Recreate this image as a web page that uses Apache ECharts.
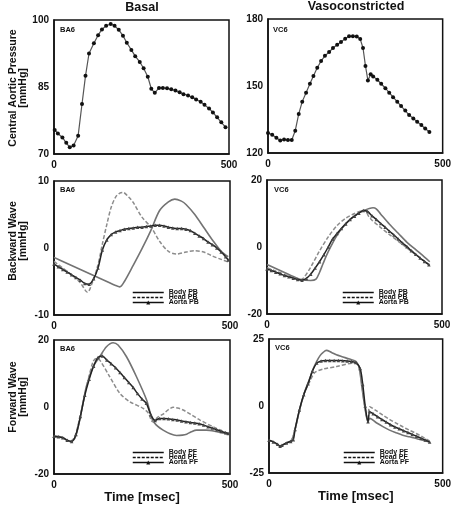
<!DOCTYPE html>
<html><head><meta charset="utf-8">
<script src="https://cdn.jsdelivr.net/npm/echarts@6/dist/echarts.min.js"></script>
<style>html,body{margin:0;padding:0;background:#fff}#c{width:454px;height:507px}</style>
</head><body><div id="c"></div>
<script>
// ---------- DATA ----------
// Central aortic pressure (mmHg)
const basalT = [2,11,24,35,45,56,69,80,90,100,114,126,137,149,162,173,185,197,208,221,232,245,256,268,278,288,300,311,323,335,347,359,370,383,395,406,419,430,443,454,466,478,490];
const basalP = [75.4,74.6,73.7,72.5,71.5,71.9,74.1,81.2,87.5,92.5,94.8,96.6,97.9,98.7,99.1,98.7,97.8,96.5,94.9,93.3,91.9,90.6,89.2,87.3,84.6,83.7,84.8,84.8,84.7,84.5,84.2,83.8,83.4,83.1,82.7,82.2,81.7,81.0,80.2,79.3,78.2,77.1,76.0];
const vcT = [0,12,24,35,46,57,68,78,88,98,109,120,130,141,152,163,175,186,198,209,221,232,243,254,264,272,279,286,294,301,313,324,336,347,358,370,381,393,404,416,427,439,450,462];
const vcP = [129.0,128.2,126.8,125.6,126.0,125.8,125.8,130.0,137.5,143.0,147.0,151.0,154.5,158.2,161.2,163.5,165.2,167.0,168.5,169.7,171.2,172.3,172.3,172.2,171.0,167.0,159.0,152.5,155.3,154.3,152.8,151.0,149.0,147.0,145.0,143.0,141.0,139.0,137.0,135.5,134.0,132.5,131.0,129.4];

// Backward wave, basal
const pbBasalBodyT = [0,25,50,75,100,125,150,175,187,200,225,250,275,300,325,343,362,375,400,425,450,475,495];
const pbBasalBodyV = [-1.4,-2.0,-2.6,-3.2,-3.8,-4.4,-5.0,-5.6,-5.8,-5.0,-2.6,-0.1,2.6,5.6,6.9,7.3,7.0,6.5,5.0,3.1,1.2,-0.5,-1.3];
const pbBasalHeadT = [0,25,50,75,95,110,125,137,150,162,175,187,196,212,225,250,277,300,325,348,375,400,425,450,475,495];
const pbBasalHeadV = [-2.0,-3.0,-4.0,-5.2,-6.6,-5.0,-2.5,0.5,3.5,6.0,7.6,8.2,8.3,7.6,6.8,4.6,3.0,1.0,-0.5,-0.9,-0.6,-0.4,-0.6,-1.2,-1.7,-2.1];
const pbBasalAortaT = [0,12.5,25,37.5,50,62.5,75,87.5,100,112.5,125,137.5,150,162.5,175,187.5,200,212.5,225,237.5,250,262.5,275,287.5,300,312.5,325,337.5,350,362.5,375,387.5,400,412.5,425,437.5,450,462.5,475,487.5,495];
const pbBasalAortaV = [-2.4,-2.8,-3.2,-3.6,-4.0,-4.4,-4.8,-5.3,-5.4,-4.6,-3.0,-0.3,1.2,2.0,2.4,2.6,2.8,2.9,3.0,3.1,3.1,3.2,3.3,3.4,3.4,3.3,3.1,3.0,2.9,2.9,2.8,2.6,2.2,1.8,1.4,0.9,0.5,0.0,-0.6,-1.3,-1.8];

// Backward wave, vasoconstricted
const pbVcBodyT = [0,25,50,75,100,125,140,150,160,175,200,225,250,275,303,312,325,350,375,400,425,450,465];
const pbVcBodyV = [-5.2,-6.4,-7.6,-8.8,-9.8,-10.0,-9.6,-7.6,-5.0,-1.4,3.5,7.0,9.3,10.8,11.7,11.4,9.8,6.8,4.1,1.4,-0.8,-3.0,-4.4];
const pbVcHeadT = [0,25,50,75,93,105,125,150,175,200,225,250,270,280,290,300,325,350,375,400,425,450,465];
const pbVcHeadV = [-6.2,-7.2,-8.2,-9.2,-9.9,-9.2,-6.0,-1.2,3.0,6.4,8.6,10.0,10.8,11.0,9.2,8.0,5.8,3.7,1.7,-0.3,-2.3,-4.2,-5.4];
const pbVcAortaT = [0,12.5,25,37.5,50,62.5,75,87.5,100,112.5,125,137.5,150,162.5,175,187.5,200,212.5,225,237.5,250,262.5,275,287.5,300,312.5,325,337.5,350,362.5,375,387.5,400,412.5,425,437.5,450,462.5];
const pbVcAortaV = [-6.6,-7.0,-7.5,-8.0,-8.5,-8.9,-9.3,-9.7,-9.9,-9.4,-8.1,-6.3,-4.4,-2.3,0.0,2.4,4.0,5.5,6.9,8.2,9.2,10.1,10.9,10.6,9.3,8.2,7.0,5.9,4.7,3.6,2.4,1.2,0.1,-1.1,-2.2,-3.3,-4.3,-5.3];

// Forward wave, basal
const pfBasalBodyT = [0,25,45,59,73,92,111,130,149,168,182,206,234,263,280,295,310,330,348,365,377,390,405,433,460,495];
const pfBasalBodyV = [-8.7,-9.1,-10.3,-9.4,-3.9,6.1,12.0,15.0,18.0,19.2,18.5,15.0,9.1,2.1,-3.9,-5.8,-6.9,-8.0,-8.5,-8.4,-8.1,-7.4,-6.9,-6.9,-7.3,-8.1];
const pfBasalHeadT = [0,25,45,59,78,97,111,120,130,158,187,215,253,268,280,295,310,325,339,355,367,390,415,452,495];
const pfBasalHeadV = [-8.7,-9.2,-10.3,-8.9,-0.9,8.1,13.5,14.5,14.0,9.1,4.1,1.6,-0.4,-1.8,-4.4,-3.0,-2.1,-0.8,-0.1,-0.4,-0.9,-2.3,-3.9,-5.9,-7.9];
const pfBasalAortaT = [0,12.5,25,37.5,50,62.5,75,87.5,100,112.5,125,137.5,150,162.5,175,187.5,200,212.5,225,237.5,250,262.5,275,287.5,300,312.5,325,337.5,350,362.5,375,387.5,400,412.5,425,437.5,450,462.5,475,487.5,495];
const pfBasalAortaV = [-8.7,-8.9,-9.2,-9.9,-10.3,-8.2,-2.8,3.5,8.3,12.2,14.8,15.2,14.0,12.9,11.7,10.3,8.8,7.3,5.8,4.0,2.4,1.1,-2.3,-4.0,-3.4,-3.4,-3.5,-3.7,-3.9,-4.2,-4.4,-4.6,-4.8,-5.0,-5.4,-5.9,-6.3,-6.8,-7.3,-7.7,-7.9];

// Forward wave, vasoconstricted
const pfVcBodyT = [0,15,32,50,65,75,89,103,118,127,137,147,156,165,180,194,213,232,251,260,267,275,285,290,309,328,347,366,385,404,424,443,462];
const pfVcBodyV = [-12.75,-13.5,-15,-13.8,-12.75,-8.75,-0.9,5.4,10.5,13.8,16.6,18.8,20.0,20.75,20.0,19.1,18.3,17.5,16.6,14.0,7.5,0.4,-5.9,-4.6,-6.25,-7.7,-9,-10.0,-10.9,-11.5,-12.1,-12.8,-13.4];
const pfVcHeadT = [0,15,32,50,65,75,89,103,118,132,156,194,242,256,264,275,285,290,309,328,347,366,385,404,424,443,462];
const pfVcHeadV = [-12.75,-13.5,-15,-13.8,-12.75,-8.75,-0.9,5.2,9.3,12.5,13.8,14.7,16.0,15.6,11.5,0.4,-5.9,-0.25,-1.75,-3.4,-5,-6.4,-7.75,-9.0,-10.25,-11.6,-13.0];
const pfVcAortaT = [0,12.5,25,32,37.5,50,62.5,70,75,87.5,100,112.5,125,137.5,150,162.5,175,187.5,200,212.5,225,237.5,250,262.5,270,277,285,290,300,312.5,325,337.5,350,362.5,375,387.5,400,412.5,425,437.5,450,462.5];
const pfVcAortaV = [-12.75,-13.4,-14.3,-15.0,-14.6,-13.8,-13.2,-12.6,-8.75,-1.5,4.2,8.3,13.0,16.0,16.8,17.0,17.0,17.0,17.0,16.9,16.8,16.6,16.2,14.0,8.0,0.0,-5.9,-2.1,-2.9,-4.0,-5.0,-6.0,-7.0,-7.8,-8.5,-9.2,-9.9,-10.6,-11.3,-12.0,-12.7,-13.4];

// Axis ranges / labels
const columnTitles = ['Basal', 'Vasoconstricted'];
const rowTitles = ['Central Aortic Pressure\n[mmHg]', 'Backward Wave\n[mmHg]', 'Forward Wave\n[mmHg]'];
const panelTags = ['BA6', 'VC6', 'BA6', 'VC6', 'BA6', 'VC6'];
const yRanges = [[70,100,15],[120,180,30],[-10,10,10],[-20,20,20],[-20,20,20],[-25,25,25]];
const xRange = [0, 500, 500];
const xTitle = 'Time [msec]';
const pbNames = ['Body PB', 'Head PB', 'Aorta PB'];
const pfNames = ['Body PF', 'Head PF', 'Aorta PF'];

// ---------- CHART ----------
const zip = (t, v) => t.map((x, i) => [x, v[i]]);
const FONT = '"Liberation Sans", Arial, Helvetica, sans-serif';
const grids = [
  {left:54, top:20, width:175, height:134},
  {left:268, top:19, width:175, height:134},
  {left:54, top:181, width:176, height:134},
  {left:267, top:180, width:175, height:134},
  {left:54, top:340, width:176, height:134},
  {left:269, top:339, width:174, height:134}
];
const axisLine = {show:true, onZero:false, lineStyle:{color:'#111', width:1.5}};
const lblStyle = {color:'#111', fontFamily:FONT, fontWeight:'bold', fontSize:10};

const xAxes = grids.map((g, i) => ({
  type:'value', gridIndex:i, min:xRange[0], max:xRange[1], interval:xRange[2],
  axisLine, axisTick:{show:false}, splitLine:{show:false},
  axisLabel:Object.assign({margin:6}, lblStyle),
  name: i >= 4 ? xTitle : '', nameLocation:'middle', nameGap:17,
  nameTextStyle:{color:'#111', fontFamily:FONT, fontWeight:'bold', fontSize:13}
}));
const yAxes = grids.map((g, i) => ({
  type:'value', gridIndex:i, min:yRanges[i][0], max:yRanges[i][1], interval:yRanges[i][2],
  axisLine, axisTick:{show:false}, splitLine:{show:false},
  axisLabel:Object.assign({margin:5}, lblStyle)
}));

const series = [];
function pressure(idx, t, v) {
  series.push({type:'line', xAxisIndex:idx, yAxisIndex:idx, data:zip(t, v), symbol:'circle', symbolSize:4,
    lineStyle:{color:'#555', width:1.2}, itemStyle:{color:'#111'}, silent:true, animation:false});
}
function waves(idx, names, bt, bv, ht, hv, at, av) {
  series.push({name:names[0], type:'line', xAxisIndex:idx, yAxisIndex:idx, data:zip(bt, bv), symbol:'none', smooth:0.3,
    lineStyle:{color:'#737373', width:1.6}, itemStyle:{color:'#737373'}, silent:true, animation:false});
  series.push({name:names[1], type:'line', xAxisIndex:idx, yAxisIndex:idx, data:zip(ht, hv), symbol:'none', smooth:0.3,
    lineStyle:{color:'#8c8c8c', width:1.5, type:[4,2]}, itemStyle:{color:'#8c8c8c'}, silent:true, animation:false});
  series.push({name:names[2], type:'line', xAxisIndex:idx, yAxisIndex:idx, data:zip(at, av), symbol:'triangle', symbolSize:3.5, smooth:0.3,
    lineStyle:{color:'#222', width:1.5}, itemStyle:{color:'#444'}, silent:true, animation:false});
}
pressure(0, basalT, basalP);
pressure(1, vcT, vcP);
waves(2, pbNames, pbBasalBodyT, pbBasalBodyV, pbBasalHeadT, pbBasalHeadV, pbBasalAortaT, pbBasalAortaV);
waves(3, pbNames, pbVcBodyT, pbVcBodyV, pbVcHeadT, pbVcHeadV, pbVcAortaT, pbVcAortaV);
waves(4, pfNames, pfBasalBodyT, pfBasalBodyV, pfBasalHeadT, pfBasalHeadV, pfBasalAortaT, pfBasalAortaV);
waves(5, pfNames, pfVcBodyT, pfVcBodyV, pfVcHeadT, pfVcHeadV, pfVcAortaT, pfVcAortaV);

function legend(names, left, top) {
  const hidden = {color:'rgba(0,0,0,0)', borderWidth:0, opacity:0};
  return {
    orient:'vertical', left, top, padding:0, itemGap:-2, itemWidth:31, itemHeight:5, selectedMode:false,
    textStyle:{color:'#111', fontFamily:FONT, fontWeight:'bold', fontSize:7, lineHeight:5.5},
    data:[
      {name:names[0], lineStyle:{color:'#111', width:1.5}, itemStyle:hidden},
      {name:names[1], lineStyle:{color:'#111', width:1.5, type:[3,1.5]}, itemStyle:hidden},
      {name:names[2], lineStyle:{color:'#111', width:1.5}, itemStyle:{color:'#111'}}
    ]
  };
}

const titles = [
  {text:columnTitles[0], left:142, top:1, textAlign:'center'},
  {text:columnTitles[1], left:356, top:0, textAlign:'center'}
].map(t => Object.assign(t, {padding:0, textStyle:{color:'#111', fontFamily:FONT, fontWeight:'bold', fontSize:12.5}}));
const tagPos = [[60,26],[273,26],[60,186],[274,186],[60,345],[275,344]];
tagPos.forEach((p, i) => titles.push({text:panelTags[i], left:p[0], top:p[1], padding:0,
  textStyle:{color:'#111', fontFamily:FONT, fontWeight:'bold', fontSize:7.5}}));

// rotated row titles
const rowTitlePos = [[18, 88], [18, 241], [18, 397]];
const graphic = rowTitles.map((t, i) => ({
  type:'text', x:rowTitlePos[i][0], y:rowTitlePos[i][1], rotation:Math.PI/2, silent:true,
  style:{text:t, align:'center', verticalAlign:'middle', fill:'#111',
    font:'bold 10.5px ' + FONT, lineHeight:10.5}
}));

const chart = echarts.init(document.getElementById('c'), null, {renderer:'canvas'});
chart.setOption({
  animation:false,
  backgroundColor:'#fff',
  title:titles,
  graphic,
  grid:grids.map(g => Object.assign({show:true, borderColor:'#111', borderWidth:1.5, backgroundColor:'transparent'}, g)),
  xAxis:xAxes,
  yAxis:yAxes,
  legend:[legend(pbNames, 132, 289), legend(pbNames, 342, 289), legend(pfNames, 132, 449), legend(pfNames, 343, 449)],
  series
});
</script>
</body></html>
